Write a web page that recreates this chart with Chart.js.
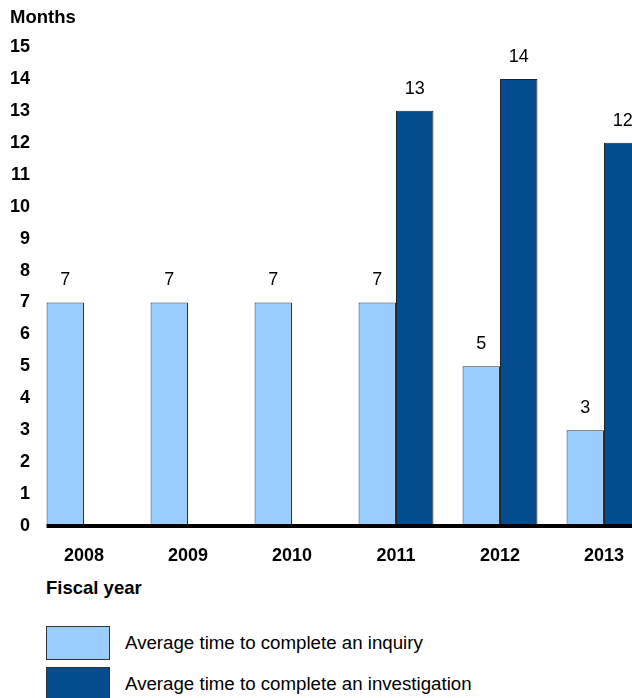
<!DOCTYPE html>
<html>
<head>
<meta charset="utf-8">
<script src="https://cdn.jsdelivr.net/npm/chart.js@4/dist/chart.umd.min.js"></script>
<style>
  html, body { margin:0; padding:0; width:632px; height:698px; overflow:hidden; background:#fff; font-family:"Liberation Sans", Arial, sans-serif; }
  #wrap { position:relative; width:632px; height:698px; overflow:hidden; }
  canvas { position:absolute; left:0; top:0; }
  .txt { position:absolute; font-size:18.5px; color:#000; white-space:nowrap; line-height:22px; }
  .leg { font-size:18.7px; }
  .bold { font-weight:bold; }
  .box { position:absolute; width:62px; height:32px; border:1px solid #333; }
</style>
</head>
<body>
<div id="wrap">
  <canvas id="c" width="656" height="576"></canvas>
  <div class="txt bold" id="ytitle" style="left:10px; top:6px;">Months</div>
  <div class="txt bold" id="xtitle" style="left:46px; top:577px;">Fiscal year</div>
  <div id="legend"></div>
</div>
<script>
const categories = ["2008", "2009", "2010", "2011", "2012", "2013"];
const inquiryLabel = "Average time to complete an inquiry";
const investigationLabel = "Average time to complete an investigation";
const inquiryValues = [7, 7, 7, 7, 5, 3];
const investigationValues = [null, null, null, 13, 14, 12];
const yTicks = [0, 1, 2, 3, 4, 5, 6, 7, 8, 9, 10, 11, 12, 13, 14, 15];

const lightColor = "#99CCFF";
const darkColor = "#034D8E";
const FONT = '"Liberation Sans", Arial, sans-serif';

const valueLabels = {
  id: "valueLabels",
  afterDatasetsDraw(chart) {
    const ctx = chart.ctx;
    ctx.save();
    // baseline axis line
    const meta0 = chart.getDatasetMeta(0);
    const first = meta0.data[0];
    const left = first.x - first.width / 2;
    const y0 = chart.scales.y.getPixelForValue(0);
    ctx.fillStyle = "#000";
    ctx.fillRect(left, y0 - 2, chart.chartArea.right - left, 4);
    // value labels
    ctx.font = "18px " + FONT;
    ctx.textAlign = "center";
    ctx.textBaseline = "middle";
    chart.data.datasets.forEach((ds, i) => {
      const meta = chart.getDatasetMeta(i);
      meta.data.forEach((bar, j) => {
        const v = ds.data[j];
        if (v === null || v === undefined) return;
        ctx.fillText(String(v), bar.x, bar.y - 22);
      });
    });
    ctx.restore();
  }
};

new Chart(document.getElementById("c"), {
  type: "bar",
  data: {
    labels: categories,
    datasets: [
      { label: inquiryLabel, data: inquiryValues, backgroundColor: lightColor, borderColor: "#333333", borderWidth: 1, categoryPercentage: 0.72, barPercentage: 1 },
      { label: investigationLabel, data: investigationValues, backgroundColor: darkColor, borderColor: "#222222", borderWidth: 1, categoryPercentage: 0.72, barPercentage: 1 }
    ]
  },
  options: {
    responsive: false,
    animation: false,
    layout: { padding: { top: 47, left: 0, right: 0, bottom: 0 } },
    plugins: { legend: { display: false }, tooltip: { enabled: false } },
    scales: {
      x: {
        grid: { display: false, drawTicks: false },
        border: { display: false },
        ticks: { color: "#000", font: { family: FONT, size: 18, weight: "bold" }, padding: 19, maxRotation: 0 },
        afterFit(scale) { scale.height = 50; }
      },
      y: {
        min: 0, max: 15,
        grid: { display: false, drawTicks: false },
        border: { display: false },
        afterBuildTicks(scale) { scale.ticks = yTicks.map(v => ({ value: v })); },
        ticks: { color: "#000", font: { family: FONT, size: 18, weight: "bold" }, padding: 2 },
        afterFit(scale) { scale.width = 32; }
      }
    }
  },
  plugins: [valueLabels]
});

// HTML legend built from dataset labels
const legend = document.getElementById("legend");
[[inquiryLabel, lightColor, 626], [investigationLabel, darkColor, 667]].forEach(([label, color, top]) => {
  const b = document.createElement("div");
  b.className = "box";
  b.style.left = "46px"; b.style.top = top + "px"; b.style.background = color;
  legend.appendChild(b);
  const t = document.createElement("div");
  t.className = "txt leg";
  t.style.left = "125px"; t.style.top = (top + 6) + "px";
  t.textContent = label;
  legend.appendChild(t);
});
</script>
</body>
</html>
